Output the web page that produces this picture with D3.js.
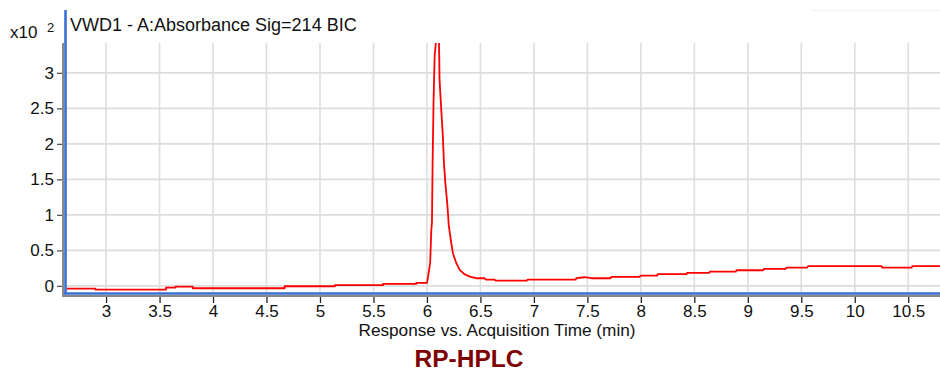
<!DOCTYPE html>
<html><head><meta charset="utf-8">
<script src="https://cdn.jsdelivr.net/npm/d3@7"></script>
<style>body{margin:0;background:#fff}svg{display:block;font-family:"Liberation Sans",Arial,sans-serif}</style>
</head><body>
<svg id="c" width="940" height="371"></svg>
<script>
// Retention time (min) and absorbance (x10^2) (flat steps given by both ends)
const times = [2.63,2.90,2.90,3.56,3.56,3.65,3.65,3.81,3.81,4.67,4.67,5.14,5.14,5.59,5.59,5.90,5.90,6.0,6.006,6.03,6.041,6.047,6.053,6.062,6.072,6.085,6.112,6.115,6.118,6.134,6.149,6.159,6.172,6.190,6.205,6.228,6.243,6.275,6.306,6.35,6.40,6.46,6.54,6.549,6.633,6.642,6.935,6.942,7.391,7.397,7.475,7.538,7.716,7.725,7.990,7.996,8.152,8.158,8.427,8.432,8.638,8.645,8.888,8.894,9.143,9.150,9.353,9.362,9.555,9.564,10.251,10.257,10.532,10.537,10.80];
const absorb = [-0.038,-0.038,-0.052,-0.052,-0.024,-0.024,-0.010,-0.010,-0.033,-0.033,-0.005,-0.005,0.010,0.010,0.028,0.028,0.042,0.042,0.085,0.32,0.79,0.89,1.73,2.6,3.23,3.45,3.45,3.23,2.9,2.48,2.1,1.73,1.45,1.16,0.84,0.6,0.46,0.32,0.225,0.165,0.13,0.108,0.108,0.089,0.089,0.075,0.075,0.089,0.089,0.108,0.122,0.108,0.108,0.127,0.127,0.145,0.145,0.165,0.165,0.183,0.183,0.2,0.2,0.22,0.22,0.24,0.24,0.258,0.258,0.277,0.277,0.258,0.258,0.277,0.277];
const xTicks = [3,3.5,4,4.5,5,5.5,6,6.5,7,7.5,8,8.5,9,9.5,10,10.5];
const yTicks = [0,0.5,1,1.5,2,2.5,3];
const title = "VWD1 - A:Absorbance Sig=214 BIC";
const xTitle = "Response vs. Acquisition Time (min)";
const caption = "RP-HPLC";

const svg = d3.select("#c");
const L = 65, R = 940, T = 43, B = 293;
const x = d3.scaleLinear().domain([2.616, 10.797]).range([L, R]);
const y = d3.scaleLinear().domain([-0.1, 3.42]).range([B, T]);

// faint frame line top right
svg.append("line").attr("x1",811).attr("x2",940).attr("y1",10.5).attr("y2",10.5).attr("stroke","#f0f0f0");

// grid
svg.append("g").selectAll("line").data(xTicks).join("line")
  .attr("x1",d=>x(d)).attr("x2",d=>x(d)).attr("y1",T).attr("y2",B)
  .attr("stroke","#dddddd").attr("stroke-width",1.6);
svg.append("g").selectAll("line").data(yTicks).join("line")
  .attr("x1",L).attr("x2",R).attr("y1",d=>y(d)).attr("y2",d=>y(d))
  .attr("stroke","#dddddd").attr("stroke-width",1.6);

// trace
svg.append("clipPath").attr("id","cp").append("rect").attr("x",L).attr("y",T).attr("width",R-L).attr("height",B-T);
const line = d3.line().x((d,i)=>x(times[i])).y((d,i)=>y(absorb[i])).curve(d3.curveLinear);
svg.append("path").attr("d", line(absorb)).attr("fill","none").attr("stroke","#ff0000")
  .attr("stroke-width",1.8).attr("stroke-linejoin","round").attr("clip-path","url(#cp)");

// gray axis lines
svg.append("line").attr("x1",63).attr("x2",63).attr("y1",T).attr("y2",297).attr("stroke","#888").attr("stroke-width",2);
svg.append("line").attr("x1",62).attr("x2",R).attr("y1",296).attr("y2",296).attr("stroke","#888").attr("stroke-width",2);
// blue frame lines
svg.append("line").attr("x1",65.5).attr("x2",65.5).attr("y1",10).attr("y2",294.5).attr("stroke","#3a6fd2").attr("stroke-width",2.6);
svg.append("line").attr("x1",64).attr("x2",R).attr("y1",293.5).attr("y2",293.5).attr("stroke","#3a6fd2").attr("stroke-width",2.6);

// y axis
const ya = d3.axisLeft(y).tickValues(yTicks).tickSize(5).tickPadding(3).tickFormat(d3.format("~g"));
const gy = svg.append("g").attr("transform","translate(62,0)").call(ya);
gy.select(".domain").remove();
gy.selectAll("line").attr("stroke","#555").attr("stroke-width",1.3);
gy.selectAll("text").attr("font-size",17).attr("fill","#111").attr("font-family","Liberation Sans, Arial, sans-serif");

// x axis
const xa = d3.axisBottom(x).tickValues(xTicks).tickSize(6).tickPadding(2).tickFormat(d3.format("~g"));
const gx = svg.append("g").attr("transform","translate(0,297)").call(xa);
gx.select(".domain").remove();
gx.selectAll("line").attr("stroke","#222").attr("stroke-width",1.3);
gx.selectAll("text").attr("font-size",17).attr("fill","#111").attr("font-family","Liberation Sans, Arial, sans-serif");

// texts
svg.append("text").attr("x",70).attr("y",31).attr("font-size",18).attr("fill","#111").text(title);
svg.append("text").attr("x",10).attr("y",38).attr("font-size",17).attr("fill","#111").text("x10");
svg.append("text").attr("x",47).attr("y",32).attr("font-size",13).attr("fill","#111").text("2");
svg.append("text").attr("x",497).attr("y",336).attr("text-anchor","middle").attr("font-size",17.2).attr("fill","#111").text(xTitle);
svg.append("text").attr("x",469).attr("y",367).attr("text-anchor","middle").attr("font-size",24.5).attr("font-weight","bold").attr("fill","#7f0000").text(caption);
</script>
</body></html>
